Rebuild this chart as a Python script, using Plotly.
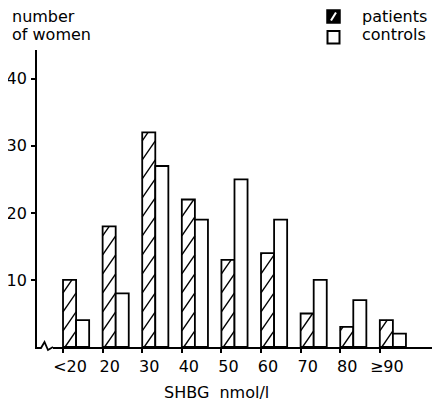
import plotly.graph_objects as go

categories = ["<20", "20", "30", "40", "50", "60", "70", "80", "≥90"]
patients = [10, 18, 32, 22, 13, 14, 5, 3, 4]
controls = [4, 8, 27, 19, 25, 19, 10, 7, 2]
y_ticks = [10, 20, 30, 40]

# the page adds an 8 px body margin; the figure is sized so it ends at the window edge
OFF = 8
W, H = 440 - OFF, 404 - OFF
L, R, T, B = 37 - OFF, 7, 50 - OFF, 57
FONT = "DejaVu Sans"
X_RANGE = [-0.657, 9.343]
Y_RANGE = [0, 44.3]

def px(xp):
    # window pixel -> paper x
    return (xp - OFF - L) / (W - L - R)

def py(yp):
    # window pixel -> paper y
    return 1 - (yp - OFF - T) / (H - T - B)

pos = list(range(len(categories)))
bw = 0.33

# hatch lines inside the patient bars, derived from the bar values
PX_PER_X = (W - L - R) / (X_RANGE[1] - X_RANGE[0])
PX_PER_Y = (H - T - B) / (Y_RANGE[1] - Y_RANGE[0])
SLOPE = 1.45      # pixel rise per pixel run
SPACING = 19.0    # vertical pixel spacing between hatch lines
hx, hy = [], []
for i, h in zip(pos, patients):
    wpx = bw * PX_PER_X
    hpx = h * PX_PER_Y
    c = -2 * SLOPE
    while c < hpx:
        xa = max(0.0, (0 - c) / SLOPE)
        xb = min(wpx, (hpx - c) / SLOPE)
        if xb > xa:
            hx += [i + xa / PX_PER_X, i + xb / PX_PER_X, None]
            hy += [(c + SLOPE * xa) / PX_PER_Y, (c + SLOPE * xb) / PX_PER_Y, None]
        c += SPACING

fig = go.Figure()
fig.add_trace(go.Bar(
    x=pos, y=patients, offset=0, width=bw, name="patients",
    marker=dict(color="white", line=dict(color="black", width=1.8)),
    showlegend=False))
fig.add_trace(go.Bar(
    x=pos, y=controls, offset=bw, width=bw, name="controls",
    marker=dict(color="white", line=dict(color="black", width=1.8)),
    showlegend=False))
fig.add_trace(go.Scatter(
    x=hx, y=hy, mode="lines", line=dict(color="black", width=1.4),
    hoverinfo="skip", showlegend=False))

shapes = []
# axis break
shapes.append(dict(type="rect", xref="paper", yref="paper",
                   x0=px(38.5), x1=px(53), y0=py(351), y1=py(345.5),
                   fillcolor="white", line=dict(width=0), layer="above"))
path = "M {} {} L {} {} L {} {} L {} {} L {} {}".format(
    px(37), py(348), px(41), py(348), px(44.5), py(342), px(48), py(350), px(53), py(347))
shapes.append(dict(type="path", xref="paper", yref="paper", path=path,
                   line=dict(color="black", width=1.8), layer="above"))
# legend swatches
shapes.append(dict(type="rect", xref="paper", yref="paper",
                   x0=px(327), x1=px(340), y0=py(23), y1=py(10),
                   fillcolor="black", line=dict(color="black", width=1.5)))
shapes.append(dict(type="line", xref="paper", yref="paper",
                   x0=px(331), x1=px(336), y0=py(20.5), y1=py(12.5),
                   line=dict(color="white", width=2)))
shapes.append(dict(type="rect", xref="paper", yref="paper",
                   x0=px(327.5), x1=px(339.5), y0=py(43.5), y1=py(31),
                   fillcolor="white", line=dict(color="black", width=2)))

txt = dict(family=FONT, size=16, color="black")
annotations = [
    dict(text="number", xref="paper", yref="paper", x=px(10), y=py(17),
         xanchor="left", yanchor="middle", showarrow=False, font=txt),
    dict(text="of women", xref="paper", yref="paper", x=px(10), y=py(35),
         xanchor="left", yanchor="middle", showarrow=False, font=txt),
    dict(text="patients", xref="paper", yref="paper", x=px(360), y=py(16),
         xanchor="left", yanchor="middle", showarrow=False, font=txt),
    dict(text="controls", xref="paper", yref="paper", x=px(360), y=py(35),
         xanchor="left", yanchor="middle", showarrow=False, font=txt),
    dict(text="SHBG  nmol/l", xref="paper", yref="paper", x=px(216), y=py(392),
         xanchor="center", yanchor="middle", showarrow=False, font=txt),
]

fig.update_layout(
    width=W, height=H,
    margin=dict(l=L, r=R, t=T, b=B, pad=0, autoexpand=False),
    paper_bgcolor="white", plot_bgcolor="white",
    barmode="overlay", showlegend=False,
    shapes=shapes, annotations=annotations,
    font=txt,
)
fig.update_xaxes(
    range=X_RANGE, tickmode="array", tickvals=pos, ticktext=categories,
    ticks="outside", ticklen=4, tickwidth=1.5, tickcolor="black",
    showline=True, linecolor="black", linewidth=1.8,
    showgrid=False, zeroline=False, ticklabelshift=7, automargin=False,
    tickfont=txt,
)
fig.update_yaxes(
    range=Y_RANGE, tickmode="array", tickvals=y_ticks,
    ticks="outside", ticklen=4, tickwidth=1.5, tickcolor="black",
    showline=True, linecolor="black", linewidth=1.8,
    showgrid=False, zeroline=False, automargin=False, ticklabelstandoff=1,
    tickfont=txt,
)

fig.write_html("out.html")
